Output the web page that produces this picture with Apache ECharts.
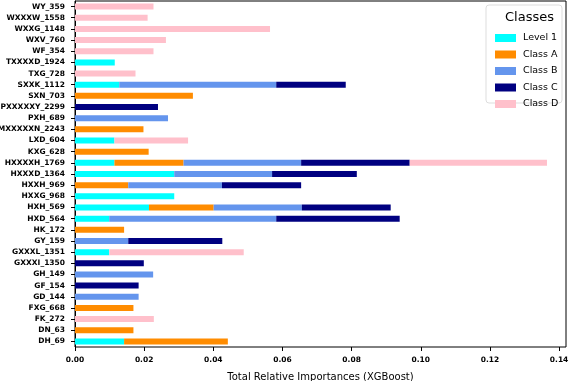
<!DOCTYPE html>
<html>
<head>
  <meta charset="UTF-8">
  <title>Total Relative Importances (XGBoost)</title>
  <script src="https://cdn.jsdelivr.net/npm/echarts@6/dist/echarts.min.js"></script>
</head>
<body style="margin:0;background:#fff;">
  <div id="chart" style="width:568px;height:381px;"></div>
  <script type="text/javascript">
    var categories = ['WY_359', 'WXXXW_1558', 'WXXG_1148', 'WXV_760', 'WF_354', 'TXXXXD_1924', 'TXG_728',
      'SXXK_1112', 'SXN_703', 'PXXXXXY_2299', 'PXH_689', 'MXXXXXN_2243', 'LXD_604', 'KXG_628',
      'HXXXXH_1769', 'HXXXD_1364', 'HXXH_969', 'HXXG_968', 'HXH_569', 'HXD_564', 'HK_172', 'GY_159',
      'GXXXL_1351', 'GXXXI_1350', 'GH_149', 'GF_154', 'GD_144', 'FXG_668', 'FK_272', 'DN_63', 'DH_69'];
    var level1 = [0, 0, 0, 0, 0, 0.0115, 0, 0.0128, 0, 0, 0, 0, 0.0114, 0, 0.0114, 0.0287, 0, 0.0287,
      0.0214, 0.0099, 0, 0, 0.0099, 0, 0, 0, 0, 0, 0, 0, 0.0142];
    var classA = [0, 0, 0, 0, 0, 0, 0, 0, 0.0341, 0, 0, 0.0198, 0, 0.0213, 0.0200, 0, 0.0154, 0,
      0.0187, 0, 0.0142, 0, 0, 0, 0, 0, 0, 0.0169, 0, 0.0169, 0.0300];
    var classB = [0, 0, 0, 0, 0, 0, 0, 0.0454, 0, 0, 0.0269, 0, 0, 0, 0.0340, 0.0283, 0.0271, 0,
      0.0255, 0.0483, 0, 0.0154, 0, 0, 0.0226, 0, 0.0184, 0, 0, 0, 0];
    var classC = [0, 0, 0, 0, 0, 0, 0, 0.0201, 0, 0.0240, 0, 0, 0, 0, 0.0314, 0.0245, 0.0229, 0,
      0.0257, 0.0357, 0, 0.0272, 0, 0.0199, 0, 0.0184, 0, 0, 0, 0, 0];
    var classD = [0.0227, 0.0210, 0.0564, 0.0263, 0.0227, 0, 0.0175, 0, 0, 0, 0, 0, 0.0213, 0, 0.0397,
      0, 0, 0, 0, 0, 0, 0, 0.0389, 0, 0, 0, 0, 0, 0.0228, 0, 0];
    var seriesNames = ['Level 1', 'Class A', 'Class B', 'Class C', 'Class D'];
    var seriesColors = ['#00ffff', '#ff8c00', '#6495ed', '#000080', '#ffc0cb'];
    var seriesData = [level1, classA, classB, classC, classD];

    var chart = echarts.init(document.getElementById('chart'));
    var font = 'DejaVu Sans';

    var series = seriesNames.map(function (name, i) {
      return {
        name: name,
        type: 'bar',
        stack: 'total',
        barWidth: 6,
        data: seriesData[i],
        itemStyle: { color: seriesColors[i] }
      };
    });

    var option = {
      animation: false,
      textStyle: { fontFamily: font },
      grid: {
        left: 75, right: 2, top: 1, bottom: 34,
        outerBoundsMode: 'none',
        show: true, borderColor: '#000', borderWidth: 1
      },
      title: {
        text: 'Classes',
        left: 500, top: 6,
        textStyle: { fontFamily: font, fontSize: 13, fontWeight: 'normal', color: '#000' }
      },
      graphic: [{
        type: 'rect',
        shape: { x: 486, y: 5, width: 76, height: 98, r: 3 },
        style: { fill: 'rgba(255,255,255,0.8)', stroke: '#ddd', lineWidth: 1 },
        z: 5
      }],
      legend: {
        orient: 'vertical',
        left: 490, top: 28,
        itemWidth: 21, itemHeight: 8, itemGap: 6.5,
        icon: 'rect',
        z: 10,
        textStyle: { fontFamily: font, fontSize: 9.5, color: '#000', padding: [0, 0, 0, 2] },
        data: seriesNames
      },
      xAxis: {
        type: 'value',
        min: 0, max: 0.142, interval: 0.02,
        name: 'Total Relative Importances (XGBoost)',
        nameLocation: 'middle', nameGap: 25,
        nameTextStyle: { fontFamily: font, fontSize: 10, color: '#000' },
        splitLine: { show: false },
        axisLine: { lineStyle: { color: '#000' } },
        axisTick: { show: true, length: 4, lineStyle: { color: '#000' } },
        axisLabel: {
          fontFamily: font, fontSize: 7.5, color: '#000', margin: 9, fontWeight: 'bold',
          showMaxLabel: false,
          formatter: function (v) { return v.toFixed(2); }
        }
      },
      yAxis: {
        type: 'category',
        inverse: true,
        data: categories,
        axisLine: { lineStyle: { color: '#000' } },
        axisTick: { show: true, length: 4, alignWithLabel: true, lineStyle: { color: '#000' } },
        axisLabel: { fontFamily: font, fontSize: 7.5, color: '#000', margin: 10, fontWeight: 'bold', interval: 0 }
      },
      series: series
    };
    chart.setOption(option);
  </script>
</body>
</html>
